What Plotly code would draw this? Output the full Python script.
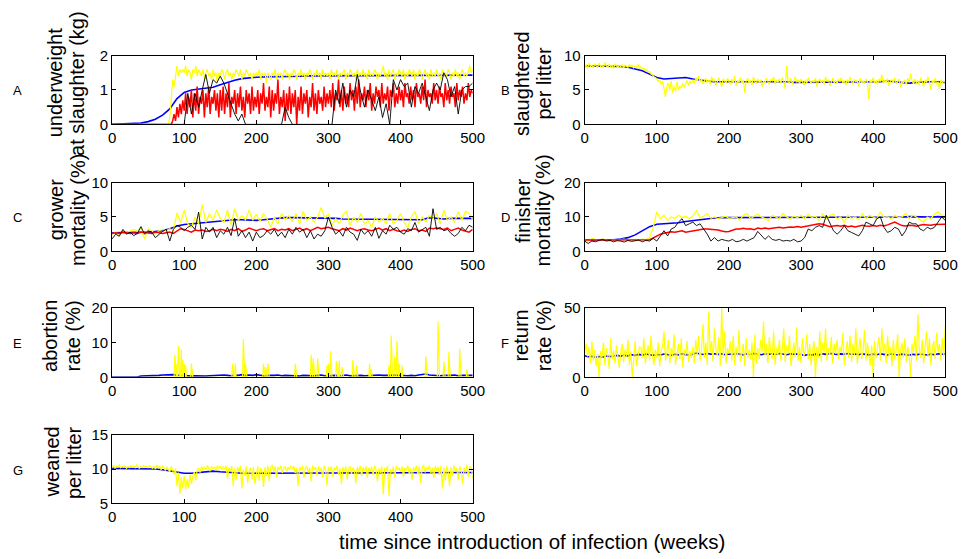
import numpy as np
import plotly.graph_objects as go

WEEKS_MAX = 500

# ---------------- Panel A: underweight at slaughter (kg) ----------------
a_blue_step = 10
a_blue = [0, 0.01, 0.02, 0.03, 0.04, 0.08, 0.15, 0.27, 0.45, 0.75,
          0.93, 1.0, 1.02, 1.04, 1.08, 1.15, 1.22, 1.28, 1.33, 1.36,
          1.37, 1.38, 1.38, 1.38, 1.39, 1.4, 1.4, 1.41, 1.41, 1.41,
          1.42, 1.42, 1.41, 1.42, 1.42, 1.43, 1.42, 1.42, 1.41, 1.42,
          1.42, 1.42, 1.41, 1.42, 1.42, 1.42, 1.43, 1.42, 1.42, 1.43, 1.43]
a_yellow_step = 2
a_yellow = [0]*25 + [0]*15 + [0.2, 0.9, 1.3, 1.1, 1.5, 1.7, 1.4, 1.6, 1.5, 1.6] + [
    1.5, 1.7, 1.4, 1.6, 1.5, 1.3, 1.6, 1.5, 1.7, 1.4, 1.6, 1.5, 1.4, 1.6, 1.3, 1.5, 1.6, 1.4, 1.5, 1.3, 1.6, 1.4, 1.5, 1.2, 1.5,
    1.4, 1.6, 1.5, 1.3, 1.5, 1.6, 1.4, 1.5, 1.3, 1.5, 1.4, 1.6, 1.5, 1.4, 1.6, 1.3, 1.5, 1.4, 1.6, 1.5, 1.4, 1.5, 1.3, 1.5, 1.4,
    1.5, 1.4, 1.6, 1.3, 1.5, 1.4, 1.5, 1.2, 1.5, 1.4, 1.3, 1.5, 1.4, 1.6, 1.3, 1.5, 1.4, 1.5, 1.3, 1.5, 1.6, 1.4, 1.5, 1.3, 1.5,
    1.4, 1.6, 1.5, 1.3, 1.5, 1.4, 1.6, 1.4, 1.5, 1.3, 1.5, 1.4, 1.6, 1.5, 1.3, 1.5, 1.4, 1.6, 1.4, 1.5, 1.3, 1.6, 1.4, 1.5, 1.4,
    1.5, 1.3, 1.6, 1.4, 1.5, 1.4, 1.6, 1.3, 1.5, 1.4, 1.5, 1.6, 1.3, 1.5, 1.4, 1.6, 1.5, 1.4, 1.5, 1.3, 1.6, 1.4, 1.5, 1.4, 1.6,
    1.4, 1.5, 1.3, 1.6, 1.4, 1.5, 1.4, 1.6, 1.5, 1.3, 1.5, 1.4, 1.6, 1.7, 1.4, 1.5, 1.3, 1.6, 1.4, 1.5, 1.6, 1.3, 1.5, 1.4, 1.6,
    1.5, 1.4, 1.6, 1.3, 1.5, 1.4, 1.6, 1.5, 1.4, 1.6, 1.3, 1.5, 1.4, 1.6, 1.5, 1.3, 1.5, 1.6, 1.4, 1.5, 1.3, 1.6, 1.4, 1.5, 1.4,
    1.6, 1.4, 1.5, 1.3, 1.6, 1.4, 1.5, 1.4, 1.6, 1.5, 1.3, 1.5, 1.4, 1.6, 1.4, 1.5, 1.3, 1.5, 1.6, 1.4, 1.5, 1.4, 1.6, 1.7, 1.5,
    1.6]
a_red_step = 2
a_red = [0]*25 + [0]*17 + [0.1, 0.3, 0.1, 0.5, 0.2, 0.6, 0.3, 0.7] + [
    0.4, 0.9, 0.3, 0.8, 0.5, 1.0, 0.2, 0.9, 0.4, 1.1, 0.3, 0.8, 0.6, 1.0, 0.2, 0.9, 0.5, 1.1, 0.3, 0.8, 0.6, 1.0, 0.4, 0.9, 0.2,
    1.0, 0.4, 1.1, 0.3, 0.9, 0.5, 1.2, 0.2, 0.8, 0.6, 1.0, 0.3, 0.9, 0.5, 1.1, 0.4, 0.8, 0.2, 1.0, 0.6, 0.9, 0.3, 1.1, 0.4, 0.8,
    0.5, 1.0, 0.3, 0.9, 0.6, 1.2, 0.4, 0.8, 0.5, 1.1, 0.2, 1.0, 0.4, 0.9, 0.6, 1.3, 0.3, 0.8, 0.5, 1.0, 0.1, 0.9, 0.4, 1.1, 0.3,
    0.9, 0.5, 1.0, 0.0, 0.8, 0.4, 1.1, 0.3, 0.9, 0.6, 1.0, 0.2, 0.8, 0.5, 1.2, 0.4, 0.9, 0.3, 1.0, 0.6, 0.8, 0.4, 1.1, 0.5, 0.9,
    0.6, 1.0, 0.5, 1.2, 0.4, 0.9, 0.7, 1.3, 0.5, 1.0, 0.4, 1.1, 0.6, 0.9, 0.5, 1.2, 0.7, 1.0, 0.4, 1.1, 0.6, 1.3, 0.5, 0.9, 0.7,
    1.1, 0.5, 1.0, 0.7, 1.2, 0.4, 0.9, 0.6, 1.1, 0.8, 1.0, 0.5, 1.2, 0.6, 0.9, 0.7, 1.1, 0.4, 1.0, 0.8, 1.2, 0.5, 0.9, 0.6, 1.1,
    0.7, 1.0, 0.5, 1.2, 0.8, 0.9, 0.6, 1.1, 0.7, 1.0, 0.5, 1.2, 0.8, 0.9, 0.6, 1.1, 0.7, 1.3, 0.5, 1.0, 0.8, 0.9, 0.6, 1.2, 0.7,
    1.0, 0.6, 1.1, 0.8, 0.9, 0.5, 1.2, 0.7, 1.0, 0.6, 1.1, 0.8, 0.9, 0.5, 1.2, 0.7, 1.0, 0.8, 1.1, 0.6, 0.9, 0.7, 1.2, 0.8, 1.0,
    0.9]
a_black_step = 5
a_black = [0]*10 + [0]*10 + [
    0.0, 0.9, 0.3, 0.9, 0.5, 1.0, 1.45, 0.9, 1.3, 1.2,
    1.4, 1.2, 0.9, 0.6, 0.3, 0.1, 0.3, 0.0, 0.0, 0.0,
    0, 0, 0, 0, 0, 0, 0, 0, 0.5, 0.2,
    0, 0, 0, 0, 0, 0, 0, 0, 0, 0,
    0.0, 0.0, 1.0, 0.6, 1.2, 0.5, 1.0, 0.8, 1.45, 0.9,
    0.5, 1.0, 0.7, 0.4, 0.8, 0.2, 0.6, 0.0, 1.3, 1.0,
    1.3, 1.1, 1.2, 0.5, 1.1, 0.9, 1.2, 0.8, 0.4, 1.0,
    1.2, 1.0, 1.5, 1.3, 0.8, 1.1, 0.3, 1.0, 1.1, 1.1,
    1.2]

# ---------------- Panel B: slaughtered per litter ----------------
b_blue_step = 10
b_blue = [8.5, 8.5, 8.5, 8.4, 8.4, 8.4, 8.3, 8.1, 7.8, 7.3,
          6.8, 6.6, 6.7, 6.8, 6.8, 6.6, 6.4, 6.3, 6.2, 6.2,
          6.2, 6.2, 6.3, 6.2, 6.2, 6.2, 6.2, 6.2, 6.2, 6.1,
          6.1, 6.2, 6.2, 6.2, 6.1, 6.2, 6.2, 6.2, 6.1, 6.2,
          6.2, 6.2, 6.3, 6.2, 6.2, 6.0, 6.1, 6.2, 6.2, 6.2, 6.1]
b_yellow_step = 2
b_yellow = [
    8.3, 8.7, 8.1, 8.9, 8.4, 8.6, 8.2, 8.8, 8.5, 8.3, 8.9, 8.4, 8.6, 8.2, 9.0, 8.5, 8.3, 8.7, 8.4, 8.6, 8.1, 8.8, 8.5, 8.3, 8.6,
    8.4, 8.7, 8.2, 8.6, 8.5, 8.3, 8.7, 8.4, 8.6, 8.2, 8.5, 8.3, 8.7, 8.1, 8.4, 8.0, 8.2, 7.8, 8.0, 7.6, 7.7, 7.3, 7.2, 6.9, 6.8,
    6.6, 6.2, 6.5, 5.8, 6.3, 5.2, 4.0, 5.5, 6.0, 5.0, 6.3, 4.6, 5.5, 4.8, 6.2, 5.0, 5.6, 5.2, 6.0, 5.4, 5.8, 6.4, 5.6, 6.3, 5.9,
    6.5, 6.0, 6.8, 6.3, 7.0, 6.1, 6.6, 5.9, 6.4, 6.7, 6.0, 6.5, 5.8, 6.9, 6.2, 6.6, 5.7, 6.4, 6.8, 6.1, 5.5, 6.6, 6.3, 6.0, 6.7,
    6.2, 5.8, 6.6, 6.0, 7.0, 5.6, 6.4, 6.1, 6.8, 5.9, 6.5, 4.6, 6.3, 6.7, 6.0, 6.4, 5.7, 6.9, 6.2, 5.9, 6.6, 6.1, 6.5, 5.5, 6.3,
    6.0, 6.7, 6.2, 5.8, 6.5, 6.3, 6.9, 5.9, 6.4, 6.1, 6.6, 6.0, 6.8, 6.3, 5.2, 8.5, 6.2, 6.0, 6.7, 5.8, 6.4, 6.9, 6.1, 6.5, 5.9,
    6.6, 6.2, 5.7, 6.5, 6.0, 6.8, 6.3, 5.9, 6.4, 6.1, 6.7, 5.5, 6.3, 6.6, 6.0, 6.4, 5.8, 6.9, 6.2, 6.5, 5.6, 6.3, 6.7, 6.0, 6.4,
    5.9, 6.6, 6.2, 6.8, 6.0, 6.4, 5.7, 6.5, 6.1, 6.9, 6.3, 5.8, 6.6, 6.2, 6.4, 5.5, 6.7, 6.0, 6.3, 5.9, 6.6, 6.2, 3.7, 6.5, 6.1,
    6.8, 6.0, 6.4, 5.8, 6.6, 6.2, 7.2, 5.9, 6.4, 6.1, 6.7, 5.6, 6.3, 6.5, 6.0, 6.8, 5.9, 6.2, 6.6, 5.4, 6.3, 6.0, 6.5, 5.8, 6.7,
    6.1, 7.4, 6.3, 5.9, 6.6, 6.0, 6.4, 5.7, 6.8, 6.2, 5.5, 6.5, 6.1, 6.9, 6.3, 5.0, 6.4, 6.0, 6.7, 5.8, 6.2, 5.2, 6.5, 6.0, 6.3,
    6.1]

# ---------------- Panel C: grower mortality (%) ----------------
c_blue_step = 10
c_blue = [2.7, 2.7, 2.7, 2.7, 2.8, 2.8, 2.9, 3.0, 3.3, 3.7,
          3.9, 4.0, 4.1, 4.2, 4.3, 4.5, 4.6, 4.6, 4.6, 4.5,
          4.5, 4.6, 4.7, 4.9, 4.9, 4.9, 4.9, 4.9, 4.9, 4.8,
          4.9, 4.8, 4.7, 4.7, 4.7, 4.7, 4.7, 4.7, 4.7, 4.7,
          4.7, 4.6, 4.6, 4.6, 4.9, 4.8, 4.7, 4.8, 4.8, 4.8, 4.8]
c_step = 5
c_yellow = [2.5, 2.8, 2.4, 3.0, 2.7, 3.0, 3.2, 2.9, 3.4, 1.8,
            3.3, 3.0, 2.5, 3.0, 3.2, 3.0, 3.3, 3.0, 5.6, 4.2,
            6.0, 4.0, 3.5, 5.0, 4.0, 6.8, 4.2, 5.5, 4.5, 6.0,
            4.8, 4.2, 6.0, 3.8, 6.2, 4.5, 5.2, 4.6, 6.0, 4.5,
            5.4, 4.3, 5.5, 4.7, 3.5, 5.0, 4.0, 5.5, 4.6, 5.2,
            4.3, 5.5, 4.0, 5.8, 4.5, 5.0, 4.2, 5.0, 6.4, 4.8,
            5.5, 3.8, 4.8, 4.0, 5.3, 5.8, 3.8, 5.0, 4.2, 5.5,
            4.0, 4.5, 3.5, 5.0, 4.3, 4.8, 4.0, 5.5, 4.0, 4.5,
            5.5, 4.2, 3.5, 5.0, 5.8, 4.0, 5.0, 4.3, 5.2, 4.7,
            5.5, 4.0, 6.0, 4.5, 5.0, 4.2, 5.8, 4.5, 5.8, 5.5,
            4.6]
c_red = [2.6, 2.7, 2.6, 2.8, 2.7, 2.6, 2.7, 2.6, 2.8, 2.7,
         2.7, 2.6, 2.8, 2.7, 2.6, 2.7, 2.8, 2.6, 2.9, 3.3,
         3.2, 3.0, 2.8, 3.1, 3.0, 3.1, 2.9, 3.0, 3.2, 3.0,
         3.2, 3.1, 2.9, 3.2, 3.0, 3.3, 2.9, 3.1, 3.4, 3.2,
         3.0, 3.2, 3.3, 3.0, 3.1, 3.3, 3.0, 3.2, 3.1, 3.3,
         3.0, 3.2, 3.4, 3.1, 3.3, 3.0, 3.2, 3.5, 3.3, 3.4,
         3.5, 3.3, 3.2, 3.0, 3.3, 3.1, 3.4, 3.2, 3.0, 3.2,
         3.3, 3.1, 3.0, 3.2, 3.4, 3.1, 3.3, 3.0, 3.2, 3.0,
         2.9, 3.1, 2.9, 3.2, 3.3, 3.0, 3.1, 2.9, 3.4, 3.3,
         3.4, 3.3, 3.2, 3.4, 3.0, 3.2, 3.4, 3.1, 3.0, 2.8,
         3.2]
c_black = [1.8, 2.5, 2.2, 3.2, 2.5, 2.8, 2.3, 2.6, 3.6, 2.5,
           3.0, 2.8, 2.0, 2.5, 2.9, 3.2, 1.5, 3.2, 3.8, 3.5,
           3.0, 3.5, 3.8, 3.2, 5.7, 1.8, 3.5, 2.8, 3.5, 2.0,
           3.0, 2.5, 3.5, 2.3, 4.8, 2.2, 3.0, 2.0, 2.8, 1.5,
           2.8, 2.0, 2.3, 3.0, 2.5, 3.2, 2.2, 2.8, 2.0, 3.2,
           2.5, 3.5, 2.8, 3.2, 2.0, 3.0, 1.8, 2.5, 2.2, 3.0,
           5.0, 3.5, 2.5, 3.0, 2.2, 3.5, 2.8, 2.5, 1.6, 3.2,
           2.5, 3.0, 2.2, 3.5, 1.9, 3.0, 2.5, 3.8, 3.2, 3.5,
           2.8, 2.5, 3.3, 3.0, 4.2, 2.8, 3.2, 3.5, 2.2, 6.2,
           3.2, 3.5, 3.0, 3.2, 2.6, 2.2, 2.6, 3.5, 3.0, 3.8,
           3.5]

# ---------------- Panel D: finisher mortality (%) ----------------
d_blue_step = 10
d_blue = [3.3, 3.3, 3.3, 3.3, 3.4, 3.6, 4.0, 4.8, 6.0, 7.2,
          7.9, 8.0, 8.1, 8.3, 8.7, 9.0, 9.2, 9.4, 9.7, 9.8,
          9.8, 9.8, 9.9, 9.9, 9.9, 10.0, 10.0, 9.9, 10.0, 10.0,
          10.0, 10.0, 9.9, 10.0, 10.0, 9.9, 9.9, 9.9, 9.9, 9.9,
          10.0, 10.0, 9.9, 9.9, 10.0, 10.1, 10.0, 10.1, 10.0, 10.1, 10.0]
d_step = 5
d_yellow = [3.5, 3.0, 3.8, 3.4, 3.2, 3.6, 3.3, 3.0, 3.5, 3.2,
            3.4, 3.6, 3.1, 3.5, 3.3, 3.0, 3.6, 3.4, 4.0, 7.0,
            11.5, 9.5, 10.5, 9.0, 10.0, 9.6, 10.5, 9.8, 10.2, 9.5,
            10.3, 11.8, 9.8, 10.2, 11.0, 9.6, 10.0, 9.5, 9.8, 10.2,
            9.6, 9.8, 10.0, 9.0, 10.5, 11.0, 9.5, 10.2, 10.8, 10.0,
            9.6, 9.0, 10.5, 10.0, 9.5, 11.0, 10.0, 9.5, 10.2, 9.8,
            10.5, 9.5, 10.8, 9.8, 10.2, 9.0, 11.0, 9.5, 10.5, 10.8,
            9.5, 10.0, 8.5, 10.5, 9.6, 10.0, 9.2, 11.0, 9.5, 10.5,
            10.0, 9.5, 11.5, 9.8, 10.0, 9.5, 10.5, 9.8, 10.0, 11.0,
            9.5, 10.5, 10.0, 9.2, 8.5, 10.0, 9.5, 10.8, 11.5, 10.5,
            10.5]
d_red = [3.3, 3.3, 3.3, 3.2, 3.3, 3.3, 3.4, 3.3, 3.3, 3.2,
         3.3, 3.3, 3.4, 3.3, 3.3, 3.4, 3.3, 3.4, 3.4, 3.9,
         4.5, 5.0, 5.3, 5.5, 5.7, 5.6, 5.8, 6.0, 5.6, 5.8,
         6.0, 6.2, 6.4, 6.5, 6.5, 6.4, 6.5, 6.2, 5.9, 5.7,
         5.8, 6.2, 6.5, 6.5, 6.7, 6.5, 6.6, 6.3, 6.8, 6.6,
         6.8, 6.6, 6.8, 6.9, 7.0, 6.8, 7.0, 7.1, 7.0, 7.2,
         7.0, 7.2, 7.3, 7.5, 7.8, 8.0, 7.9, 7.5, 7.2, 7.4,
         7.5, 7.3, 7.6, 7.2, 7.4, 7.1, 7.3, 7.6, 7.4, 7.3,
         7.5, 7.3, 7.6, 7.4, 7.7, 8.0, 8.5, 8.0, 7.5, 7.4,
         7.6, 7.5, 7.3, 7.6, 7.8, 7.7, 7.6, 7.8, 7.9, 7.8,
         7.9]
d_black = [3.0, 2.3, 3.0, 2.8, 3.2, 3.5, 3.0, 3.2, 2.8, 3.1,
           3.0, 2.7, 3.2, 2.9, 3.1, 3.3, 2.8, 3.2, 3.0, 3.8,
           3.0, 4.5, 6.0, 4.5, 6.5, 7.0, 8.5, 9.5, 7.5, 8.0,
           8.5, 7.5, 8.0, 6.5, 5.0, 3.0, 4.0, 3.0, 3.5, 3.2,
           3.0, 3.5, 2.8, 3.0, 3.5, 3.0, 3.5, 4.0, 5.8, 4.5,
           3.5, 4.5, 3.5, 3.2, 3.5, 3.0, 3.2, 3.0, 3.5, 2.8,
           3.0, 4.0, 6.5, 6.0, 7.0, 7.5, 7.0, 10.5, 8.0, 6.0,
           5.0, 6.0, 7.5, 6.0, 5.5, 5.0, 4.5, 6.0, 8.5, 8.0,
           7.5, 9.5, 10.0, 7.0, 5.5, 6.0, 7.0, 6.5, 4.5, 6.0,
           8.5, 8.0, 8.0, 6.5, 6.0, 7.0, 6.5, 7.0, 8.5, 10.0,
           9.0]

# ---------------- Panel E: abortion rate (%) ----------------
e_blue_step = 5
e_blue = [0.1, 0.1, 0.1, 0.1, 0.1, 0.1, 0.1, 0.1, 0.4, 0.4,
          0.5, 0.5, 0.6, 0.6, 0.7, 0.8, 0.9, 0.8, 0.7, 0.6,
          0.6, 0.5, 0.4, 0.5, 0.4, 0.5, 0.4, 0.5, 0.6, 0.5,
          0.6, 0.7, 0.6, 0.5, 0.7, 0.6, 0.8, 0.6, 0.7, 0.6,
          0.8, 0.6, 0.5, 0.6, 0.5, 0.6, 0.7, 0.5, 0.6, 0.5,
          0.6, 0.5, 0.4, 0.6, 0.5, 0.6, 0.5, 0.6, 0.7, 0.5,
          0.6, 0.5, 0.6, 0.5, 0.6, 0.7, 0.5, 0.6, 0.5, 0.6,
          0.5, 0.6, 0.5, 0.6, 0.7, 0.6, 0.5, 0.6, 0.7, 0.6,
          0.5, 0.6, 0.5, 0.6, 0.5, 0.7, 0.9, 1.0, 0.7, 0.6,
          0.6, 0.5, 0.6, 0.5, 0.6, 0.7, 0.5, 0.6, 0.5, 0.6,
          0.6]
e_spike_weeks = [87, 90, 92, 96, 98, 100, 102, 110, 167, 171, 182, 185, 210, 213, 216, 254,
                 276, 279, 285, 298, 300, 303, 311, 315, 319, 334, 339, 357, 359, 384, 387,
                 392, 395, 398, 402, 435, 452, 460, 467, 482, 492]
e_spike_vals = [6.5, 4.0, 9.0, 8.0, 5.0, 4.0, 3.5, 4.0, 4.0, 4.0, 11.0, 4.0, 4.0, 3.0, 4.0, 4.0,
                6.5, 5.5, 5.5, 3.5, 4.0, 7.5, 4.7, 4.8, 3.0, 5.0, 3.5, 4.0, 2.5, 3.5, 12.0,
                6.0, 10.5, 4.0, 3.5, 6.0, 16.0, 4.5, 7.2, 8.3, 2.3]

# ---------------- Panel F: return rate (%) ----------------
f_blue_step = 5
f_blue = [15.5, 14.8, 15.2, 14.5, 15.0, 14.6, 15.3, 14.9, 15.4, 15.8,
          15.2, 16.0, 15.5, 16.3, 15.8, 16.5, 16.0, 16.8, 16.2, 15.9,
          16.5, 16.1, 16.8, 16.3, 15.9, 16.6, 16.2, 16.9, 16.4, 16.0,
          16.7, 17.5, 16.8, 16.4, 17.2, 16.6, 17.0, 16.5, 16.9, 16.3,
          16.8, 16.4, 17.1, 16.6, 16.2, 16.9, 16.5, 17.2, 16.7, 16.3,
          17.0, 16.6, 16.9, 16.4, 17.1, 16.8, 16.3, 17.0, 16.6, 16.9,
          16.5, 15.8, 16.4, 16.0, 16.7, 16.2, 16.9, 16.5, 17.2, 16.8,
          16.4, 16.9, 16.6, 17.1, 16.5, 16.8, 16.3, 16.9, 16.5, 16.2,
          16.7, 16.3, 16.9, 16.5, 16.2, 16.8, 16.4, 16.1, 16.7, 16.3,
          16.0, 16.6, 16.2, 16.8, 16.4, 16.1, 16.7, 16.3, 16.9, 16.6,
          17.0]
f_yellow_step = 2
f_yellow = [
    18, 24, 15, 22, 10, 26, 12, 20, 8, 17, 0, 19, 14, 25, 9, 21, 16, 6, 28, 13, 19, 10, 23, 15, 7,
    18, 24, 11, 20, 15, 27, 9, 19, 0, 13, 26, 8, 17, 22, 21, 14, 28, 10, 18, 23, 12, 30, 16, 9, 20,
    14, 25, 8, 19, 22, 33, 12, 18, 27, 10, 21, 15, 31, 9, 17, 24, 13, 28, 7, 20, 16, 26, 11, 19, 14,
    22, 10, 27, 16, 30, 12, 20, 38, 14, 25, 9, 47, 18, 26, 11, 35, 20, 15, 29, 8, 50, 14, 33, 10, 21,
    17, 26, 12, 30, 9, 22, 15, 34, 11, 19, 24, 8, 28, 14, 20, 13, 25, 0, 31, 10, 21, 13, 27, 18, 40,
    15, 24, 10, 29, 18, 13, 33, 9, 21, 16, 27, 12, 20, 35, 11, 23, 17, 30, 8, 19, 25, 14, 36, 12, 22,
    10, 28, 15, 20, 31, 13, 24, 9, 19, 26, 0, 22, 14, 33, 11, 25, 18, 35, 12, 21, 16, 29, 10, 24, 17,
    27, 13, 22, 18, 32, 9, 20, 26, 14, 30, 11, 24, 16, 35, 10, 21, 28, 13, 19, 34, 12, 25, 17, 9, 23,
    0, 26, 14, 21, 29, 12, 35, 18, 24, 10, 30, 15, 22, 8, 27, 13, 20, 31, 0, 19, 25, 14, 28, 11, 22,
    16, 0, 24, 18, 30, 12, 45, 20, 14, 27, 10, 23, 33, 15, 28, 9, 21, 26, 13, 32, 18, 24, 12, 28, 15,
    37]

# ---------------- Panel G: weaned per litter ----------------
g_blue_step = 10
g_blue = [10.1, 10.1, 10.1, 10.1, 10.1, 10.0, 10.0, 9.9, 9.7, 9.5,
          9.4, 9.4, 9.5, 9.6, 9.7, 9.6, 9.5, 9.5, 9.4, 9.4,
          9.4, 9.4, 9.4, 9.5, 9.5, 9.5, 9.5, 9.4, 9.4, 9.4,
          9.4, 9.4, 9.5, 9.4, 9.4, 9.4, 9.4, 9.5, 9.5, 9.5,
          9.4, 9.5, 9.5, 9.5, 9.4, 9.4, 9.5, 9.5, 9.5, 9.5, 9.5]
g_yellow_step = 2
g_yellow = [
    10.2, 10.5, 10.1, 10.4, 10.3, 10.6, 10.2, 10.4, 10.3, 10.5, 10.1, 10.4, 10.2, 10.5, 10.3, 10.4, 10.2, 10.6, 10.3, 10.1, 10.4, 10.2, 10.5, 10.3, 10.4,
    10.2, 10.5, 10.3, 10.1, 10.4, 10.0, 10.6, 10.2, 10.4, 9.9, 10.5, 10.2, 9.8, 10.3, 10.0, 9.6, 10.4, 9.9, 9.2, 10.1, 7.5, 9.5, 6.4, 8.8, 7.2,
    9.0, 7.0, 8.5, 7.3, 9.2, 7.8, 8.9, 9.6, 8.4, 9.9, 10.2, 9.5, 10.4, 9.8, 10.3, 9.9, 10.5, 10.1, 9.7, 10.4, 10.0, 10.3, 9.8, 10.5, 10.1,
    10.4, 9.9, 10.3, 10.0, 10.5, 8.6, 10.2, 9.8, 10.4, 7.5, 10.1, 8.4, 10.3, 9.6, 10.5, 7.2, 10.0, 9.0, 10.4, 8.0, 9.7, 10.2, 8.5, 10.3, 7.8,
    9.5, 10.4, 8.3, 10.1, 9.7, 7.4, 10.3, 9.0, 10.5, 8.2, 10.2, 10.6, 9.6, 10.4, 8.8, 10.3, 9.9, 10.5, 9.4, 10.1, 10.4, 9.7, 10.3, 9.9, 10.5,
    10.0, 10.4, 9.4, 10.2, 7.5, 10.3, 9.8, 10.5, 8.7, 10.1, 10.4, 9.5, 10.2, 8.2, 10.5, 9.9, 10.3, 9.0, 10.4, 9.6, 10.2, 8.8, 10.5, 9.9, 7.6,
    10.3, 9.7, 10.4, 8.9, 10.2, 9.8, 10.5, 9.2, 10.1, 7.8, 10.3, 9.6, 10.4, 8.5, 10.0, 10.4, 9.3, 10.2, 9.8, 7.9, 10.3, 9.5, 10.5, 9.0, 10.2,
    9.7, 10.4, 8.8, 10.2, 9.6, 10.3, 9.1, 10.5, 9.9, 8.2, 10.1, 9.4, 10.4, 6.3, 10.2, 9.8, 10.4, 6.1, 10.0, 9.5, 10.3, 8.7, 10.4, 9.9, 10.1,
    9.6, 10.4, 8.9, 10.2, 9.8, 10.5, 9.3, 10.1, 8.4, 10.3, 9.7, 10.5, 9.2, 10.4, 8.0, 10.2, 10.6, 9.5, 10.3, 9.9, 10.5, 9.4, 10.2, 8.7, 10.4,
    9.8, 10.3, 9.1, 10.5, 7.2, 10.2, 8.3, 10.4, 9.6, 7.5, 10.3, 9.0, 10.5, 9.7, 10.1, 8.4, 10.4, 9.9, 7.8, 10.2, 9.5, 10.6, 8.9, 10.4, 10.2,
    8.6]

# ---------------- labels ----------------
panel_letters = ["A", "B", "C", "D", "E", "F", "G"]
ylabel_lines = [("underweight", "at slaughter (kg)"),
                ("slaughtered", "per litter"),
                ("grower", "mortality (%)"),
                ("finisher", "mortality (%)"),
                ("abortion", "rate (%)"),
                ("return", "rate (%)"),
                ("weaned", "per litter")]
y_ranges = [(0, 2), (0, 10), (0, 10), (0, 20), (0, 20), (0, 50), (5, 15)]
y_ticks = [[0, 1, 2], [0, 5, 10], [0, 5, 10], [0, 10, 20], [0, 10, 20], [0, 50], [5, 10, 15]]
x_ticks = [0, 100, 200, 300, 400, 500]
x_title = "time since introduction of infection (weeks)"

# ---------------- layout geometry (pixels) ----------------
W, H = 973, 559
col_px = {0: (110, 477), 1: (591, 958)}
row_px = [(48, 119), (179, 250), (308, 380), (439, 510)]
panel_pos = [(0, 0), (0, 1), (1, 0), (1, 1), (2, 0), (2, 1), (3, 0)]
ylab_x = [(52, 74), (527, 550), (53, 75), (528, 549), (47, 70), (526, 549), (49, 72)]
letter_x = {0: 14, 1: 510}

FONT = "Liberation Sans, Arial, sans-serif"
BLUE, YEL, RED, BLK = "#0000FF", "#FFFF00", "#FF0000", "#000000"


def xs(vals, step):
    return [i * step for i in range(len(vals))]


fig = go.Figure()


def add(panel, x, y, color, width=1.0):
    suffix = "" if panel == 1 else str(panel)
    fig.add_trace(go.Scatter(x=x, y=y, mode="lines", line=dict(color=color, width=width),
                             xaxis="x" + suffix, yaxis="y" + suffix,
                             showlegend=False, hoverinfo="skip"))


# A
add(1, xs(a_blue, a_blue_step), a_blue, BLUE, 1.6)
add(1, xs(a_yellow, a_yellow_step), a_yellow, YEL, 1.2)
add(1, xs(a_red, a_red_step), a_red, RED, 1.5)
add(1, xs(a_black, a_black_step), a_black, BLK, 0.9)
# B
add(2, xs(b_blue, b_blue_step), b_blue, BLUE, 1.6)
add(2, xs(b_yellow, b_yellow_step), b_yellow, YEL, 1.2)
# C
add(3, xs(c_blue, c_blue_step), c_blue, BLUE, 1.6)
add(3, xs(c_yellow, c_step), c_yellow, YEL, 1.2)
add(3, xs(c_red, c_step), c_red, RED, 1.5)
add(3, xs(c_black, c_step), c_black, BLK, 0.9)
# D
add(4, xs(d_blue, d_blue_step), d_blue, BLUE, 1.6)
add(4, xs(d_yellow, d_step), d_yellow, YEL, 1.2)
add(4, xs(d_red, d_step), d_red, RED, 1.5)
add(4, xs(d_black, d_step), d_black, BLK, 0.9)
# E
e_weeks = list(range(WEEKS_MAX + 1))
e_yellow = np.zeros(WEEKS_MAX + 1)
e_yellow[e_spike_weeks] = e_spike_vals
add(5, xs(e_blue, e_blue_step), e_blue, BLUE, 1.6)
add(5, e_weeks, e_yellow.tolist(), YEL, 1.2)
# F
add(6, xs(f_blue, f_blue_step), f_blue, BLUE, 1.6)
add(6, xs(f_yellow, f_yellow_step), f_yellow, YEL, 1.2)
# G
add(7, xs(g_blue, g_blue_step), g_blue, BLUE, 1.6)
add(7, xs(g_yellow, g_yellow_step), g_yellow, YEL, 1.2)

layout = dict(width=W, height=H, margin=dict(l=0, r=0, t=0, b=0),
              paper_bgcolor="white", plot_bgcolor="white", showlegend=False,
              font=dict(family=FONT, color="black"))
annotations = []
for i in range(7):
    r, c = panel_pos[i]
    x0, x1 = col_px[c]
    y0, y1 = row_px[r]
    suffix = "" if i == 0 else str(i + 1)
    axis_common = dict(showline=True, linecolor="black", linewidth=1, mirror="ticks",
                       ticks="inside", ticklen=4, tickwidth=1, tickcolor="black",
                       showgrid=False, zeroline=False, tickfont=dict(size=15, family=FONT))
    layout["xaxis" + suffix] = dict(domain=[x0 / W, x1 / W], range=[0, WEEKS_MAX],
                                    tickvals=x_ticks, anchor="y" + suffix, **axis_common)
    layout["yaxis" + suffix] = dict(domain=[1 - y1 / H, 1 - y0 / H], range=list(y_ranges[i]),
                                    tickvals=y_ticks[i], anchor="x" + suffix, **axis_common)
    yc = (y0 + y1) / 2 - 7
    for line_text, lx in zip(ylabel_lines[i], ylab_x[i]):
        annotations.append(dict(text=line_text, x=lx / W, y=1 - yc / H, xref="paper", yref="paper",
                                xanchor="center", yanchor="middle", textangle=-90, showarrow=False,
                                font=dict(size=20, family=FONT)))
    annotations.append(dict(text=panel_letters[i], x=letter_x[c] / W, y=1 - ((y0 + y1) / 2 + 1) / H,
                            xref="paper", yref="paper", xanchor="center", yanchor="middle",
                            showarrow=False, font=dict(size=13, family=FONT)))
annotations.append(dict(text=x_title, x=537 / W, y=1 - 549 / H, xref="paper", yref="paper",
                        xanchor="center", yanchor="middle", showarrow=False,
                        font=dict(size=20.5, family=FONT)))
layout["annotations"] = annotations
fig.update_layout(**layout)
fig.write_html("out.html", config={"displayModeBar": False},
               post_script="document.body.style.margin='0px';document.body.style.overflow='hidden';")
